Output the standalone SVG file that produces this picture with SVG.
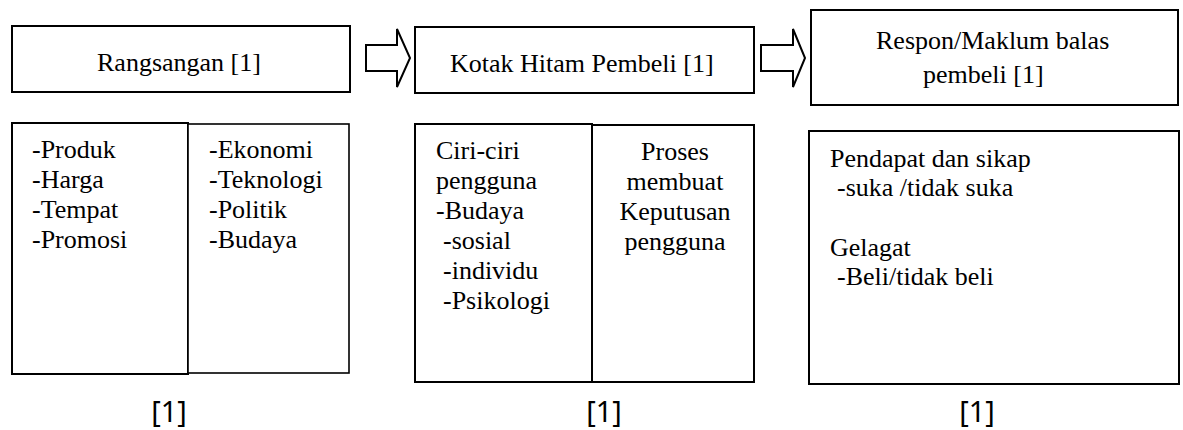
<svg xmlns="http://www.w3.org/2000/svg" width="1183" height="430" viewBox="0 0 1183 430">
<style>
.box{fill:#fff;stroke:#000;stroke-width:2}
.thin{stroke-width:1.6}
.t{font-family:'Liberation Serif','Times New Roman',serif;font-size:26px;fill:#000}
.m{text-anchor:middle}
.lbl{font-family:'Noto Sans','DejaVu Sans',sans-serif;font-size:29px;fill:#000;text-anchor:middle}
.arrow{fill:#fff;stroke:#000;stroke-width:2;stroke-linejoin:miter}
</style>
<rect width="1183" height="430" fill="#fff"/>
<g id="connectors">
<polygon class="arrow" points="366,45 397,45 397,29 410,58 397,87 397,71 366,71"/>
<polygon class="arrow" points="761,45 793,45 793,29 805,58 793,87 793,71 761,71"/>
</g>
<g id="rangsangan">
<rect class="box" x="12" y="26" width="338" height="66"/>
<text class="t" x="97" y="71">Rangsangan [1]</text>
</g>
<g id="kotak-hitam">
<rect class="box" x="415" y="27" width="339" height="66"/>
<text class="t" x="450" y="72">Kotak Hitam Pembeli [1]</text>
</g>
<g id="respon">
<rect class="box" x="811" y="10" width="367" height="95"/>
<text class="t" x="876" y="49">Respon/Maklum balas</text>
<text class="t" x="923" y="83">pembeli [1]</text>
</g>
<g id="rangsangan-pemasaran">
<rect class="box" x="12" y="123" width="176" height="251"/>
<text class="t" x="32" y="158">-Produk</text>
<text class="t" x="32" y="188">-Harga</text>
<text class="t" x="32" y="218">-Tempat</text>
<text class="t" x="32" y="248">-Promosi</text>
</g>
<g id="rangsangan-lain">
<rect class="box thin" x="188" y="124" width="161" height="249"/>
<text class="t" x="209" y="158">-Ekonomi</text>
<text class="t" x="209" y="188">-Teknologi</text>
<text class="t" x="209" y="218">-Politik</text>
<text class="t" x="209" y="248">-Budaya</text>
</g>
<g id="ciri-ciri">
<rect class="box" x="415" y="124" width="177" height="258"/>
<text class="t" x="436" y="159">Ciri-ciri</text>
<text class="t" x="436" y="189">pengguna</text>
<text class="t" x="436" y="219">-Budaya</text>
<text class="t" x="443" y="249">-sosial</text>
<text class="t" x="443" y="279">-individu</text>
<text class="t" x="443" y="309">-Psikologi</text>
</g>
<g id="proses">
<rect class="box" x="592" y="125" width="162" height="257"/>
<text class="t m" x="675" y="160">Proses</text>
<text class="t m" x="675" y="190">membuat</text>
<text class="t m" x="675" y="220">Keputusan</text>
<text class="t m" x="675" y="250">pengguna</text>
</g>
<g id="pendapat">
<rect class="box" x="809" y="131" width="370" height="253"/>
<text class="t" x="830" y="167">Pendapat dan sikap</text>
<text class="t" x="837" y="196">-suka /tidak suka</text>
<text class="t" x="830" y="256">Gelagat</text>
<text class="t" x="837" y="285">-Beli/tidak beli</text>
</g>
<g id="marks">
<text class="lbl" x="169" y="422">[1]</text>
<text class="lbl" x="604" y="422">[1]</text>
<text class="lbl" x="977" y="422">[1]</text>
</g>
</svg>
